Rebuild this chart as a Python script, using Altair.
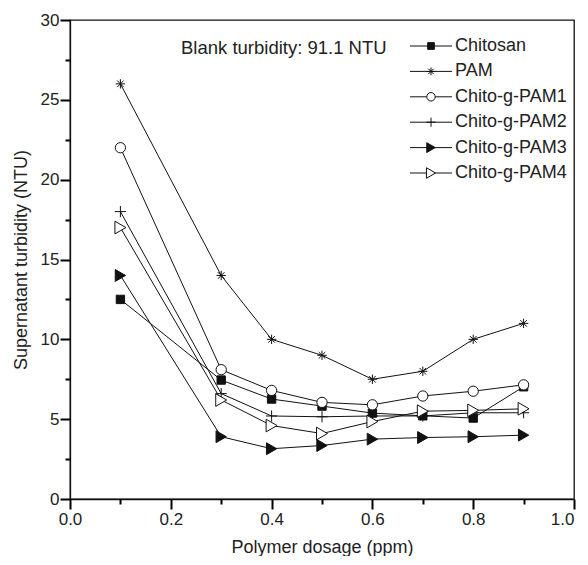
import altair as alt
import pandas as pd

doses = [0.1, 0.3, 0.4, 0.5, 0.6, 0.7, 0.8, 0.9]
series = ["Chitosan", "PAM", "Chito-g-PAM1", "Chito-g-PAM2", "Chito-g-PAM3", "Chito-g-PAM4"]
chitosan = [12.5, 7.45, 6.26, 5.82, 5.38, 5.21, 5.07, 7.03]
pam = [26.0, 14.0, 10.0, 9.0, 7.5, 8.0, 10.0, 11.0]
pam1 = [22.0, 8.1, 6.8, 6.05, 5.9, 6.45, 6.75, 7.15]
pam2 = [18.0, 6.6, 5.2, 5.15, 5.2, 5.2, 5.4, 5.4]
pam3 = [14.0, 3.9, 3.15, 3.35, 3.75, 3.85, 3.9, 4.0]
pam4 = [17.0, 6.2, 4.6, 4.1, 4.85, 5.5, 5.55, 5.65]
values = [chitosan, pam, pam1, pam2, pam3, pam4]

x_major = [0.0, 0.2, 0.4, 0.6, 0.8, 1.0]
x_minor = [0.1, 0.3, 0.5, 0.7, 0.9]
y_major = [0, 5, 10, 15, 20, 25, 30]
y_minor = [2.5, 7.5, 12.5, 17.5, 22.5, 27.5]
note = "Blank turbidity: 91.1 NTU"

ASTER = "M-1,0H1M0,-1V1M-0.7,-0.7L0.7,0.7M-0.7,0.7L0.7,-0.7"
PLUS = "M-1,0H1M0,-1V1"
shapes = ["square", ASTER, "circle", PLUS, "triangle-right", "triangle-right"]
fills = ["#111", "white", "white", "white", "#111", "white"]
sizes = [70, 160, 75, 140, 115, 115]
leg_sizes = [45, 110, 50, 100, 75, 75]

rows = []
for s, vals in zip(series, values):
    for d, v in zip(doses, vals):
        rows.append({"series": s, "dose": d, "ntu": v})
df = pd.DataFrame(rows)
leg = pd.DataFrame({"series": series})

INK = "#111111"
TXT = "#222222"
TICK = "black"
TW = 2

shape_scale = alt.Scale(domain=series, range=shapes)
fill_scale = alt.Scale(domain=series, range=fills)
size_scale = alt.Scale(domain=series, range=sizes)
leg_size_scale = alt.Scale(domain=series, range=leg_sizes)
xs = alt.Scale(domain=[0, 1], nice=False, zero=False)
ys = alt.Scale(domain=[0, 30], nice=False)

lines = alt.Chart(df).mark_line(color=INK, strokeWidth=1).encode(
    x=alt.X("dose:Q", scale=xs,
            axis=alt.Axis(orient="bottom", values=x_major, format=".1f", ticks=True, tickSize=10,
                          tickWidth=TW, tickColor=TICK, tickOpacity=1, domainWidth=1.3,
                          labelFlush=False, labelOverlap=False,
                          labelAlign={"expr": "datum.value >= 1 ? 'right' : 'center'"},
                          title="Polymer dosage (ppm)", labelPadding=2, titlePadding=11)),
    y=alt.Y("ntu:Q", scale=ys,
            axis=alt.Axis(orient="left", values=y_major, ticks=True, tickSize=10, tickWidth=TW,
                          tickColor=TICK, tickOpacity=1, domainWidth=1.3,
                          labelFlush=False, labelOverlap=False,
                          title="Supernatant turbidity (NTU)", labelPadding=1, titlePadding=10)),
    detail="series:N",
    order="dose:Q",
)

points = alt.Chart(df).mark_point(filled=True, stroke=INK, strokeWidth=1, opacity=1).encode(
    x=alt.X("dose:Q", scale=xs,
            axis=alt.Axis(orient="bottom", values=x_minor, ticks=True, tickSize=5, tickWidth=TW,
                          tickColor=TICK, tickOpacity=1, labels=False, domain=False, title=None)),
    y=alt.Y("ntu:Q", scale=ys,
            axis=alt.Axis(orient="left", values=y_minor, ticks=True, tickSize=5, tickWidth=TW,
                          tickColor=TICK, tickOpacity=1, labels=False, domain=False, title=None)),
    shape=alt.Shape("series:N", scale=shape_scale, legend=None),
    fill=alt.Fill("series:N", scale=fill_scale, legend=None),
    size=alt.Size("series:N", scale=size_scale, legend=None),
)

leg_y = alt.Y("series:N", scale=alt.Scale(type="point", domain=series, range=[26, 153], padding=0), axis=None)

leg_rule = alt.Chart(leg).mark_rule(color=INK, strokeWidth=1).encode(
    x=alt.value(340), x2=alt.value(382), y=leg_y)
leg_pts = alt.Chart(leg).mark_point(filled=True, stroke=INK, strokeWidth=1, opacity=1).encode(
    x=alt.value(361), y=leg_y,
    shape=alt.Shape("series:N", scale=shape_scale, legend=None),
    fill=alt.Fill("series:N", scale=fill_scale, legend=None),
    size=alt.Size("series:N", scale=leg_size_scale, legend=None),
)
leg_txt = alt.Chart(leg).mark_text(align="left", baseline="middle", fontSize=18, color=TXT).encode(
    x=alt.value(385), y=leg_y, text="series:N")

note_txt = alt.Chart(pd.DataFrame({"t": [note]})).mark_text(
    align="left", baseline="middle", fontSize=18.5, color=TXT).encode(
    x=alt.value(111), y=alt.value(28), text="t:N")

chart = alt.layer(lines, points, leg_rule, leg_pts, leg_txt, note_txt).resolve_scale(
    x="independent", y="independent", size="independent"
).resolve_axis(x="independent", y="independent").properties(
    width=504, height=479,
    autosize=alt.AutoSizeParams(type="none"),
    padding={"left": 62, "top": 12, "right": 6, "bottom": 57},
).configure(font="Liberation Sans").configure_view(
    stroke=INK, strokeWidth=1.3
).configure_axis(
    domainColor=INK, tickColor=TICK, labelColor=TXT, titleColor=TXT,
    labelFontSize=17, titleFontSize=18, titleFontWeight="normal", grid=False,
    labelFont="Liberation Sans", titleFont="Liberation Sans",
)

chart.save("out.html", embed_options={"renderer": "svg", "actions": False})
